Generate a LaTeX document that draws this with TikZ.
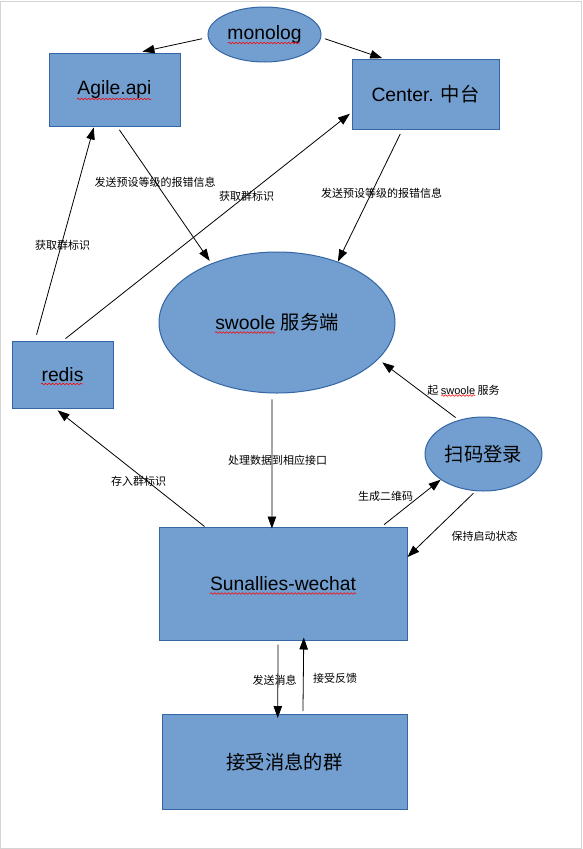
\documentclass[tikz,border=0pt]{standalone}
\usepackage{fontspec}
\setmainfont{Liberation Sans}
\newfontfamily\cjk{Noto Sans CJK SC}
\usetikzlibrary{arrows.meta,shapes.geometric,decorations.pathmorphing}
\definecolor{boxfill}{HTML}{729FCF}
\definecolor{boxline}{HTML}{3465A4}
\definecolor{frame}{HTML}{D4D4D4}
\begin{document}
\begin{tikzpicture}[x=1pt,y=-1pt,
  box/.style={draw=boxline, fill=boxfill, line width=1pt, inner sep=0pt, rectangle},
  oval/.style={draw=boxline, fill=boxfill, line width=1pt, inner sep=0pt, ellipse},
  big/.style={font=\fontsize{19.3}{23}\selectfont},
  lab/.style={font=\cjk\fontsize{11}{13}\selectfont, inner sep=0pt},
  arr/.style={-{Triangle[length=12pt,width=8.5pt]}, line width=0.8pt},
  squig/.style={draw=red, line width=0.6pt, decorate, decoration={snake, amplitude=0.8pt, segment length=3.5pt}}]
\useasboundingbox (0,0) rectangle (583,849);
\draw[frame, line width=1.2pt] (0.6,1.2) rectangle (581.6,848.2);

% nodes
\node[oval, minimum width=113pt, minimum height=55pt, big] (monolog) at (264.5,34.5) {monolog};
\node[box, minimum width=131pt, minimum height=73pt, big] (agile) at (114.5,89.5) {Agile.api};
\node[box, minimum width=147pt, minimum height=70pt, big] (center) at (425.5,94) {Center. {\cjk 中台}};
\node[oval, minimum width=236pt, minimum height=141pt, big] (swoole) at (277,322.5) {swoole {\cjk 服务端}};
\node[box, minimum width=101pt, minimum height=67pt, big] (redis) at (62.5,374.5) {redis};
\node[oval, minimum width=117pt, minimum height=74pt, big] (scan) at (483.5,454) {{\cjk 扫码登录}};
\node[box, minimum width=248pt, minimum height=113pt, big] (sun) at (283,583.5) {Sunallies-wechat};
\node[box, minimum width=245pt, minimum height=95pt, big] (recv) at (284.5,762) {{\cjk 接受消息的群}};

% spell-check squiggles
\path[squig] (228,43) -- (300,43);
\path[squig] (77,99) -- (151,99);
\path[squig] (215,332.5) -- (275,332.5);
\path[squig] (41,384) -- (82.5,384);
\path[squig] (210,593.5) -- (356,593.5);
\path[squig] (441,395.5) -- (475,395.5);

% labels
\node[lab] (l1) at (155,182) {发送预设等级的报错信息};
\node[lab] (l2) at (246.5,196.5) {获取群标识};
\node[lab] (l3) at (381.5,193.5) {发送预设等级的报错信息};
\node[lab] (l4) at (62.5,245.5) {获取群标识};
\node[lab] (l5) at (463.5,390) {起 {\rmfamily swoole} 服务};
\node[lab] (l6) at (277.5,460.5) {处理数据到相应接口};
\node[lab] (l7) at (138.5,481.5) {存入群标识};
\node[lab] (l8) at (385.5,496.5) {生成二维码};
\node[lab] (l9) at (484.5,536.5) {保持启动状态};
\node[lab] (l10) at (274.5,680.5) {发送消息};
\node[lab] (l11) at (335,678) {接受反馈};

% connectors
\draw[arr, shorten <=6pt, shorten >=4pt] (monolog.183) -- (agile.57);
\draw[arr, shorten <=4pt, shorten >=1pt] (monolog.-3) -- (center.140);
\draw[arr, shorten <=4pt, shorten >=3pt] (agile.-86) -- (swoole.138);
\draw[arr, shorten <=5pt] (center.-123) -- (swoole.45);
\draw[arr, shorten <=6pt, shorten >=1pt] (redis.129) -- (agile.-119);
\draw[arr, shorten <=3pt, shorten >=2pt] (redis.89) -- (center.-166);
\draw[arr, shorten <=6pt, shorten >=-2pt] (swoole.-94) -- (sun.101);
\draw[arr, shorten >=3pt] (sun.144) -- (redis.-102);
\draw[arr, shorten <=4pt, shorten >=5pt] (scan.126) -- (swoole.-20);
\draw[arr, shorten <=3pt] (sun.30) -- (scan.-149);
\draw[arr, shorten <=3pt] (scan.-102) -- (sun.12);
\draw[arr, shorten <=4pt, shorten >=-4pt] (sun.-95) -- (recv.98);
\draw[arr, shorten <=3pt, shorten >=-3pt] (recv.69) -- (sun.-70.5);
\end{tikzpicture}
\end{document}
